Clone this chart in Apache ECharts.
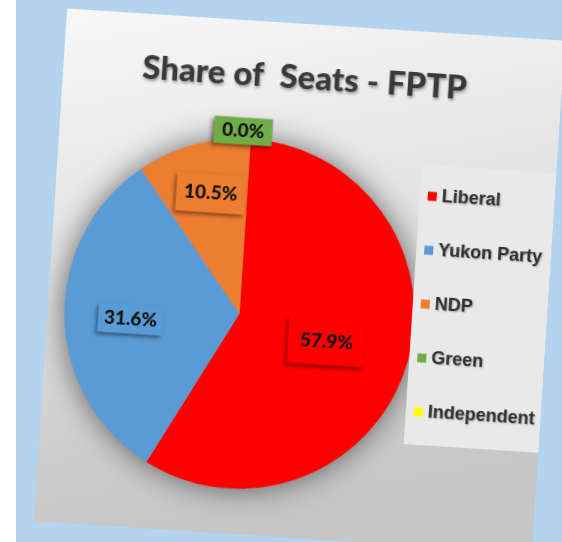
<!DOCTYPE html>
<html><head><meta charset="utf-8">
<script src="https://cdn.jsdelivr.net/npm/echarts@6/dist/echarts.min.js"></script>
<style>
html,body{margin:0;padding:0;width:562px;height:542px;overflow:hidden;
background:linear-gradient(90deg,#ffffff 0,#ffffff 16px,#b3d3ee 16px,#b3d3ee 100%);}
#card{position:absolute;left:50px;top:24px;width:499px;height:514px;transform:rotate(3.7deg);transform-origin:50% 50%;}
</style></head>
<body>
<div id="card"></div>
<script>
const titleText = 'Share of  Seats - FPTP';
const parties = ['Liberal', 'Yukon Party', 'NDP', 'Green', 'Independent'];
const seats = [11, 6, 2, 0, 0];
const partyColors = ['#ff0000', '#5b9bd5', '#ed7d31', '#70ad47', '#ffff00'];
const labelShown = [true, true, true, true, false];
const labelOffsets = [[1, 0], [-18, 5], [-7, -33], [-8, -92], [0, 0]];
const labelPads = [[14, 12], [5, 6], [10, 8], [4, 8], [4, 8]];

const total = seats.reduce((a, b) => a + b, 0);
const chart = echarts.init(document.getElementById('card'), null, {renderer: 'canvas'});
chart.setOption({
  backgroundColor: {type: 'linear', x: 0, y: 0, x2: 0.25, y2: 1,
    colorStops: [{offset: 0, color: '#f7f7f7'}, {offset: 0.45, color: '#e4e4e4'},
                 {offset: 0.8, color: '#cfcfcf'}, {offset: 1, color: '#c6c6c6'}]},
  animation: false,
  title: {
    text: titleText, left: 74, top: 33,
    textStyle: {fontFamily: 'Lato', fontWeight: 900, fontSize: 33, color: '#3a3a3a',
      textShadowColor: 'rgba(0,0,0,0.35)', textShadowBlur: 3, textShadowOffsetX: 1, textShadowOffsetY: 2}
  },
  legend: {
    orient: 'vertical', left: 364, top: 133,
    data: parties,
    icon: 'rect', itemWidth: 9, itemHeight: 9, itemGap: 36,
    padding: [22, 10, 24, 8],
    backgroundColor: '#e9e9e9',
    textStyle: {fontFamily: 'Liberation Sans', fontWeight: 'bold', fontSize: 18, color: '#2e2e2e',
      textShadowColor: 'rgba(0,0,0,0.3)', textShadowBlur: 2, textShadowOffsetX: 1, textShadowOffsetY: 1}
  },
  series: [
    {
      type: 'pie', z: 1, silent: true, center: ['38.4%', '57.1%'], radius: 175,
      label: {show: false}, labelLine: {show: false},
      itemStyle: {color: '#9a9a9a', shadowBlur: 30, shadowColor: 'rgba(0,0,0,0.55)'},
      data: [{value: total, name: 'shadow'}]
    },
    {
      type: 'pie', z: 2, center: ['38.4%', '57.1%'], radius: 175, startAngle: 90,
      clockwise: true, percentPrecision: 1, avoidLabelOverlap: false,
      labelLine: {show: false},
      label: {
        position: 'inside',
        formatter: p => p.percent.toFixed(1) + '%',
        fontFamily: 'Lato', fontWeight: 900, fontSize: 19, color: '#111',
        shadowColor: 'rgba(0,0,0,0.45)', shadowBlur: 4, shadowOffsetX: -2, shadowOffsetY: 3
      },
      labelLayout: p => ({dx: labelOffsets[p.dataIndex][0], dy: labelOffsets[p.dataIndex][1]}),
      data: parties.map((n, i) => ({
        name: n, value: seats[i],
        itemStyle: {color: partyColors[i]},
        label: {show: labelShown[i], backgroundColor: partyColors[i], padding: labelPads[i]}
      }))
    }
  ]
});
</script>
</body></html>
